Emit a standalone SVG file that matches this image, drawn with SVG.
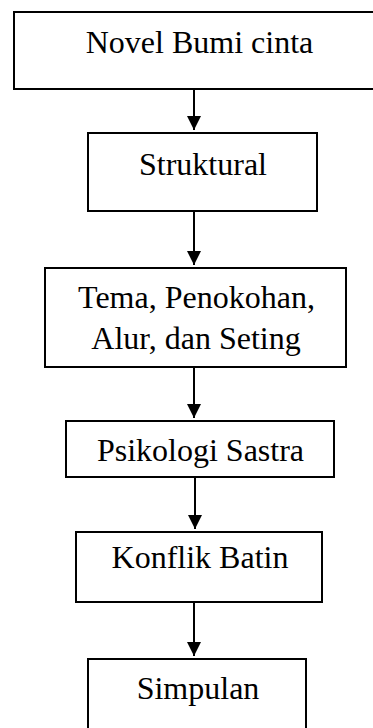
<svg xmlns="http://www.w3.org/2000/svg" width="373" height="728" viewBox="0 0 373 728">
<style>
.box{fill:#fff;stroke:#000;stroke-width:2}
.lbl{font-family:"Liberation Serif","Times New Roman",serif;font-size:32px;fill:#000;text-anchor:middle}
.con{stroke:#000;stroke-width:2;fill:none}
</style>
<defs>
<marker id="ah" viewBox="0 0 10 10" refX="10" refY="5" markerWidth="14" markerHeight="15" markerUnits="userSpaceOnUse" orient="auto">
<path d="M0,0 L10,5 L0,10 z" fill="#000"/>
</marker>
</defs>
<rect width="373" height="728" fill="#fff"/>
<g id="connectors">
<line class="con" x1="194" y1="89" x2="194" y2="130" marker-end="url(#ah)"/>
<line class="con" x1="194" y1="211" x2="194" y2="265" marker-end="url(#ah)"/>
<line class="con" x1="194" y1="367" x2="194" y2="418" marker-end="url(#ah)"/>
<line class="con" x1="195" y1="477" x2="195" y2="529" marker-end="url(#ah)"/>
<line class="con" x1="194" y1="602" x2="194" y2="656" marker-end="url(#ah)"/>
</g>
<g id="n1">
<rect class="box" x="14" y="12" width="370" height="77"/>
<text class="lbl" x="199.5" y="53">Novel Bumi cinta</text>
</g>
<g id="n2">
<rect class="box" x="88" y="133" width="229" height="78"/>
<text class="lbl" x="203" y="175">Struktural</text>
</g>
<g id="n3">
<rect class="box" x="45" y="268" width="301" height="99"/>
<text class="lbl" x="196.5" y="308">Tema, Penokohan,</text>
<text class="lbl" x="196" y="349">Alur, dan Seting</text>
</g>
<g id="n4">
<rect class="box" x="66" y="421" width="268" height="56"/>
<text class="lbl" x="200.5" y="461">Psikologi Sastra</text>
</g>
<g id="n5">
<rect class="box" x="76" y="532" width="246" height="70"/>
<text class="lbl" x="200" y="568">Konflik Batin</text>
</g>
<g id="n6">
<rect class="box" x="88" y="659" width="218" height="100"/>
<text class="lbl" x="198" y="699">Simpulan</text>
</g>
</svg>
